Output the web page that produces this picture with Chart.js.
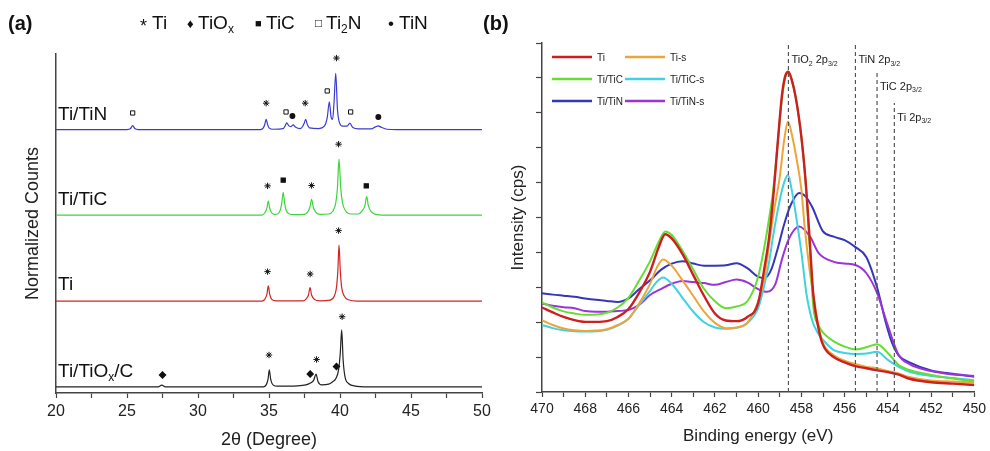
<!DOCTYPE html>
<html>
<head>
<meta charset="utf-8">
<script src="https://cdn.jsdelivr.net/npm/chart.js@4"></script>
<style>
  html, body { margin: 0; padding: 0; background: #fff; }
  #wrap { position: relative; width: 990px; height: 451px; overflow: hidden; }
  #wrap canvas { position: absolute; top: 0; }
  #xrd { left: 0; }
  #xps { left: 470px; }
</style>
</head>
<body>
<div id="wrap">
  <canvas id="xrd" width="500" height="451"></canvas>
  <canvas id="xps" width="520" height="451"></canvas>
</div>
<script>
// ─── (a) XRD patterns ──────────────────────────────────────────────
// intensities above each pattern's own baseline, [2θ, counts]
const xrdTiTiN = [
  [20, 0], [25.0, 0], [25.25, 0.3], [25.4, 1.2], [25.55, 0.3], [25.8, 0],
  [34.4, 0], [34.6, 0.5], [34.7, 1.5], [34.8, 3.0], [34.9, 1.5], [35.0, 0.5], [35.3, 0.1],
  [36.0, 0.3], [36.15, 1.2], [36.25, 2.0], [36.4, 1.1], [36.55, 0.9], [36.7, 1.4], [36.85, 0.8],
  [37.2, 0.3], [37.38, 1.0], [37.48, 1.9], [37.58, 3.0], [37.7, 1.5], [37.85, 0.5],
  [38.5, 0.3], [38.9, 1.0], [39.1, 3.5], [39.25, 8.2], [39.38, 3.5], [39.48, 3.0],
  [39.58, 8.0], [39.7, 16.6], [39.82, 6.0], [39.95, 2.2], [40.2, 1.0], [40.5, 1.0],
  [40.7, 1.9], [40.9, 0.6], [41.3, 0.2], [42.2, 0.2], [42.5, 0.8], [42.7, 1.1],
  [42.9, 0.7], [43.3, 0.1], [44, 0], [50, 0],
];
const xrdTiTiC = [
  [20, 0], [34.5, 0], [34.7, 0.6], [34.85, 2.0], [34.95, 4.1], [35.05, 2.0], [35.2, 0.6],
  [35.4, 0.2], [35.6, 0.3], [35.8, 1.5], [35.9, 3.5], [36.0, 6.7], [36.1, 3.5], [36.2, 1.5],
  [36.4, 0.4], [36.8, 0.1], [37.5, 0.2], [37.7, 0.8], [37.88, 2.3], [38.0, 4.6], [38.12, 2.3],
  [38.3, 0.8], [38.6, 0.2], [39.2, 0.3], [39.5, 1.2], [39.7, 3.5], [39.82, 8.0], [39.93, 16.5],
  [40.05, 8.0], [40.18, 3.5], [40.4, 1.2], [40.8, 0.3], [41.3, 0.3], [41.55, 1.2], [41.75, 2.7],
  [41.88, 5.4], [42.0, 2.7], [42.2, 1.0], [42.5, 0.2], [43, 0], [50, 0],
];
const xrdTi = [
  [20, 0], [34.5, 0], [34.7, 0.5], [34.85, 2.0], [34.95, 4.5], [35.05, 2.0], [35.2, 0.5],
  [35.5, 0.1], [37.4, 0.1], [37.6, 0.6], [37.78, 1.8], [37.89, 4.0], [38.0, 1.8], [38.2, 0.5],
  [38.6, 0.1], [39.3, 0.3], [39.6, 1.5], [39.75, 4.0], [39.85, 9.0], [39.93, 16.6], [40.02, 9.0],
  [40.12, 4.0], [40.3, 1.5], [40.6, 0.4], [41.2, 0], [50, 0],
];
const xrdTiTiOxC = [
  [20, 0], [27.2, 0], [27.45, 0.5], [27.7, 0], [34.6, 0], [34.8, 0.6], [34.93, 2.2],
  [35.02, 5.0], [35.12, 2.2], [35.28, 0.6], [35.6, 0.2], [37.0, 0.3], [37.6, 0.6], [37.95, 1.2],
  [38.15, 2.0], [38.31, 3.8], [38.45, 1.6], [38.7, 0.6], [39.2, 0.8], [39.5, 1.6], [39.7, 2.4],
  [39.9, 5.0], [40.02, 10.0], [40.12, 16.8], [40.22, 8.0], [40.35, 3.0], [40.6, 1.0],
  [41.0, 0.3], [42, 0], [50, 0],
];
const xrdPatterns = [xrdTiTiN, xrdTiTiC, xrdTi, xrdTiTiOxC];
const xrdNames = ['Ti/TiN', 'Ti/TiC', 'Ti', 'Ti/TiO_{x}/C'];
const xrdOffsets = [77.7, 52.5, 27.1, 1.8];
const xrdNameY = [82.0, 56.9, 31.9, 6.2];

// phase markers over the reflections, [2θ, height]
const markTi = [
  [34.8, 85.5], [37.55, 85.5], [39.75, 98.8],
  [34.9, 61.1], [38.0, 61.2], [39.9, 73.4],
  [34.9, 35.8], [37.9, 35.1], [39.9, 47.9],
  [35.0, 11.2], [38.35, 9.9], [40.15, 22.5],
];
const markTiOx = [[27.5, 5.3], [37.9, 5.6], [39.75, 7.8]];
const markTiC = [[36.0, 62.8], [41.85, 61.1]];
const markTi2N = [[25.4, 82.6], [36.2, 82.9], [39.1, 89.1], [40.75, 82.9]];
const markTiN = [[36.65, 81.7], [42.7, 81.4]];

const phaseSymbols = ['*', '\u2666', '\u25A0', '\u25A1', '\u2022'];
const phaseNames = ['Ti', 'TiO_{x}', 'TiC', 'Ti_{2}N', 'TiN'];

// ─── (b) XPS Ti 2p spectra, [binding energy, intensity] ────────────
const xpsTi = [
  [470, 2.42], [469.5, 2.28], [469, 2.15], [468.5, 2.06], [468, 2.01], [467.5, 2.01], [467, 2.03],
  [466.5, 2.15], [466, 2.38], [465.5, 2.85], [465, 3.45], [464.6, 4.15], [464.3, 4.52], [464, 4.40],
  [463.5, 3.95], [463, 3.35], [462.5, 2.75], [462, 2.25], [461.5, 2.05], [461, 2.03], [460.5, 2.15],
  [460, 2.55], [459.7, 3.6], [459.5, 4.4], [459.3, 5.6], [459.1, 7.1], [458.9, 8.5], [458.75, 9.05],
  [458.6, 9.18], [458.45, 8.95], [458.25, 8.4], [458.0, 7.3], [457.8, 6.0], [457.6, 4.2],
  [457.45, 2.8], [457.2, 1.8], [457.0, 1.35], [456.5, 1.0], [456, 0.85], [455.5, 0.74], [455, 0.68],
  [454.5, 0.62], [454, 0.57], [453.5, 0.5], [453, 0.38], [452, 0.28], [451, 0.24], [450, 0.2],
];
const xpsTiS = [
  [470, 2.06], [469.5, 1.92], [469, 1.82], [468.5, 1.77], [468, 1.75], [467.5, 1.76], [467, 1.8],
  [466.5, 1.92], [466, 2.1], [465.5, 2.55], [465, 3.1], [464.7, 3.55], [464.4, 3.8], [464, 3.62],
  [463.5, 3.2], [463, 2.75], [462.5, 2.3], [462, 1.98], [461.5, 1.83], [461, 1.85], [460.5, 1.98],
  [460, 2.6], [459.7, 3.3], [459.5, 4.2], [459.3, 5.07], [459.0, 6.17], [458.8, 7.2], [458.62, 7.75],
  [458.45, 7.4], [458.24, 6.74], [458.0, 5.8], [457.85, 4.74], [457.6, 3.4], [457.4, 2.6],
  [457.2, 1.85], [457, 1.4], [456.5, 1.05], [456, 0.9], [455.5, 0.8], [455, 0.72], [454.5, 0.68],
  [454, 0.6], [453.5, 0.53], [453, 0.43], [452, 0.33], [451, 0.3], [450, 0.27],
];
const xpsTiTiC = [
  [470, 2.57], [469.5, 2.42], [469, 2.31], [468.5, 2.25], [468, 2.21], [467.5, 2.22], [467, 2.27],
  [466.5, 2.42], [466, 2.7], [465.5, 3.2], [465, 3.75], [464.6, 4.3], [464.3, 4.6], [464, 4.5],
  [463.5, 4.05], [463, 3.5], [462.5, 2.95], [462, 2.6], [461.5, 2.4], [461, 2.45], [460.5, 2.6],
  [460, 3.3], [459.7, 4.2], [459.5, 4.95], [459.3, 5.8], [459.1, 7.1], [458.9, 8.4], [458.75, 9.0],
  [458.6, 9.15], [458.45, 8.95], [458.25, 8.4], [458, 7.3], [457.8, 6.0], [457.6, 4.0],
  [457.45, 2.45], [457.2, 1.9], [457, 1.7], [456.5, 1.45], [456, 1.3], [455.5, 1.22], [455, 1.28],
  [454.5, 1.37], [454, 1.12], [453.5, 0.77], [453, 0.63], [452, 0.49], [451, 0.39], [450, 0.3],
];
const xpsTiTiCS = [
  [470, 1.92], [469.5, 1.83], [469, 1.77], [468.5, 1.74], [468, 1.73], [467.5, 1.74], [467, 1.78],
  [466.5, 1.9], [466, 2.1], [465.5, 2.5], [465, 2.9], [464.7, 3.15], [464.4, 3.28], [464, 3.1],
  [463.5, 2.7], [463, 2.3], [462.5, 2.0], [462, 1.85], [461.5, 1.81], [461, 1.84], [460.5, 1.98],
  [460, 2.4], [459.7, 3.1], [459.5, 3.7], [459.3, 4.5], [459.0, 5.5], [458.8, 6.0], [458.62, 6.22],
  [458.45, 5.8], [458.24, 5.02], [458.0, 4.0], [457.77, 2.83], [457.5, 2.05], [457.2, 1.65],
  [457, 1.49], [456.5, 1.2], [456, 1.12], [455.5, 1.09], [455, 1.1], [454.5, 1.15], [454, 0.92],
  [453.5, 0.72], [453, 0.58], [452, 0.46], [451, 0.4], [450, 0.34],
];
const xpsTiTiN = [
  [470, 2.83], [469.5, 2.79], [469, 2.76], [468.5, 2.73], [468, 2.68], [467.5, 2.64], [467, 2.61],
  [466.5, 2.58], [466, 2.68], [465.5, 2.95], [465, 3.2], [464.5, 3.5], [464, 3.68], [463.5, 3.75],
  [463, 3.68], [462.5, 3.62], [462, 3.62], [461.5, 3.63], [461, 3.69], [460.5, 3.55], [460, 3.3],
  [459.7, 3.27], [459.4, 3.5], [459.1, 4.1], [458.8, 4.8], [458.5, 5.35], [458.1, 5.7], [457.8, 5.6],
  [457.5, 5.3], [457, 4.6], [456.5, 4.45], [456, 4.35], [455.5, 4.15], [455, 3.87], [454.5, 3.0],
  [454.1, 2.0], [453.8, 1.4], [453.5, 1.05], [453, 0.85], [452, 0.62], [451, 0.52], [450, 0.44],
];
const xpsTiTiNS = [
  [470, 2.54], [469.5, 2.47], [469, 2.43], [468.5, 2.4], [468, 2.32], [467.5, 2.3], [467, 2.3],
  [466.5, 2.32], [466, 2.35], [465.5, 2.5], [465, 2.78], [464.5, 2.95], [464, 3.1], [463.5, 3.18],
  [463, 3.15], [462.5, 3.12], [462, 3.07], [461.5, 3.15], [461, 3.22], [460.5, 3.14], [460, 2.95],
  [459.6, 2.87], [459.2, 3.1], [458.9, 3.8], [458.6, 4.36], [458.1, 4.74], [457.6, 4.45],
  [457.2, 3.98], [456.5, 3.73], [456, 3.68], [455.5, 3.64], [455, 3.41], [454.5, 2.84], [454, 1.9],
  [453.5, 1.06], [453, 0.8], [452, 0.6], [451, 0.5], [450, 0.46],
];
const xpsSpectra = [xpsTi, xpsTiS, xpsTiTiC, xpsTiTiCS, xpsTiTiN, xpsTiTiNS];
const xpsNames = ['Ti', 'Ti-s', 'Ti/TiC', 'Ti/TiC-s', 'Ti/TiN', 'Ti/TiN-s'];

// reference binding energies and the height each dashed marker reaches
const refEnergies = [458.6, 455.5, 454.5, 453.7];
const refTops = [9.94, 9.94, 9.17, 8.28];
const refLabels = ['TiO_{2} 2p_{3/2}', 'TiN 2p_{3/2}', 'TiC 2p_{3/2}', 'Ti 2p_{3/2}'];

// ─── styling ───────────────────────────────────────────────────────
const FAMILY = '"Liberation Sans", Arial, "DejaVu Sans", sans-serif';
const INK = '#222';
const AXIS = '#444';
const xrdColors = ['#3b3bd0', '#3fd43f', '#d42424', '#222222'];
const xpsColors = ['#cc1f1f', '#eda53a', '#66dd33', '#40d2e0', '#3636b8', '#9b34d8'];
const xpsOrder = [0, 2, 1, 3, 5, 4];

Chart.defaults.font.family = FAMILY;
Chart.defaults.color = INK;

// text with _{...} subscripts, drawn left to right from x
function richParts(str) {
  const parts = [];
  const re = /_\{([^}]*)\}/g;
  let last = 0, m;
  while ((m = re.exec(str))) {
    if (m.index > last) parts.push([str.slice(last, m.index), false]);
    parts.push([m[1], true]);
    last = re.lastIndex;
  }
  if (last < str.length) parts.push([str.slice(last), false]);
  return parts;
}

function drawRich(ctx, str, x, y, size) {
  for (const [t, sub] of richParts(str)) {
    ctx.font = (sub ? Math.round(size * 0.62) : size) + 'px ' + FAMILY;
    ctx.fillText(t, x, sub ? y + size * 0.32 : y);
    x += ctx.measureText(t).width;
  }
  return x;
}

const toXY = (pts, dy = 0) => pts.map(([x, y]) => ({ x, y: y + dy }));

// sample names, phase key and panel letter for (a)
const xrdText = {
  id: 'xrdText',
  afterDraw(chart) {
    const { ctx, scales: { x, y } } = chart;
    ctx.save();
    ctx.fillStyle = '#111';
    ctx.textBaseline = 'middle';
    xrdNames.forEach((name, i) => {
      drawRich(ctx, name, x.getPixelForValue(20) + 2, y.getPixelForValue(xrdNameY[i]), 19);
    });

    ctx.font = 'bold 20px ' + FAMILY;
    ctx.fillText('(a)', 8, 24);

    const symX = [140, 187, 255, 315, 388];
    const symSize = [18, 13, 11, 12, 17];
    phaseNames.forEach((name, i) => {
      ctx.font = symSize[i] + 'px ' + FAMILY;
      ctx.fillText(phaseSymbols[i], symX[i], i === 0 ? 27 : 24);
      drawRich(ctx, name, symX[i] + (i === 0 ? 12 : 11), 24, 19);
    });
    ctx.restore();
  },
};

// reference-line captions, key and panel letter for (b)
const xpsText = {
  id: 'xpsText',
  afterDraw(chart) {
    const { ctx, scales: { x, y } } = chart;
    ctx.save();
    ctx.fillStyle = INK;
    ctx.textBaseline = 'middle';
    refEnergies.forEach((e, i) => {
      drawRich(ctx, refLabels[i], x.getPixelForValue(e) + 3, y.getPixelForValue(refTops[i]) + 15, 11);
    });

    xpsNames.forEach((name, i) => {
      const lx = i % 2 ? 155 : 82;
      const ly = 57 + Math.floor(i / 2) * 22;
      ctx.strokeStyle = xpsColors[i];
      ctx.lineWidth = 2.5;
      ctx.beginPath();
      ctx.moveTo(lx, ly);
      ctx.lineTo(lx + 40, ly);
      ctx.stroke();
      ctx.font = '10px ' + FAMILY;
      ctx.fillText(name, lx + 45, ly + 1);
    });

    ctx.fillStyle = '#111';
    ctx.font = 'bold 20px ' + FAMILY;
    ctx.fillText('(b)', 13, 24);
    ctx.restore();
  },
};

// ─── (a) chart ─────────────────────────────────────────────────────
const xrdTraces = xrdPatterns.map((pts, i) => ({
  data: toXY(pts, xrdOffsets[i]),
  borderColor: xrdColors[i],
  borderWidth: 1.2,
  pointRadius: 0,
  cubicInterpolationMode: 'monotone',
  fill: false,
}));

const marker = (pts, style, radius, fillColor, width = 1.1) => ({
  type: 'scatter',
  data: toXY(pts),
  pointStyle: style,
  pointRadius: radius,
  pointBorderWidth: width,
  pointBorderColor: '#111',
  pointBackgroundColor: fillColor,
  showLine: false,
  clip: false,
});

new Chart(document.getElementById('xrd'), {
  type: 'line',
  data: {
    datasets: [
      ...xrdTraces,
      marker(markTi, 'star', 3.2, '#111', 1),
      marker(markTiOx, 'rectRot', 3.2, '#111'),
      marker(markTiC, 'rect', 3, '#111'),
      marker(markTi2N, 'rect', 3, '#fff', 1),
      marker(markTiN, 'circle', 2.4, '#111'),
    ],
  },
  options: {
    responsive: false,
    animation: false,
    layout: { padding: { top: 54, right: 18, left: 0, bottom: 0 } },
    plugins: { legend: { display: false }, tooltip: { enabled: false } },
    scales: {
      x: {
        type: 'linear',
        min: 20,
        max: 50,
        afterFit: (s) => { s.height = 58; },
        grid: { drawOnChartArea: false, tickLength: 5, color: AXIS, tickWidth: 1.2 },
        border: { color: AXIS, width: 1.5 },
        ticks: {
          stepSize: 2.5,
          autoSkip: false,
          maxRotation: 0,
          padding: 4,
          color: INK,
          font: { size: 16 },
          callback: (v) => (v % 5 === 0 ? v : ''),
        },
        title: {
          display: true,
          text: '2\u03B8 (Degree)',
          color: INK,
          font: { size: 18 },
          padding: { top: 0, bottom: 0 },
        },
      },
      y: {
        min: 0,
        max: 100,
        afterFit: (s) => { s.width = 56; },
        grid: { display: false },
        border: { color: AXIS, width: 1.5 },
        ticks: { display: false },
        title: {
          display: true,
          text: 'Normalized Counts',
          color: INK,
          font: { size: 18 },
          padding: { top: 22, bottom: 0 },
        },
      },
    },
  },
  plugins: [xrdText],
});

// ─── (b) chart ─────────────────────────────────────────────────────
const xpsTraces = xpsSpectra.map((pts, i) => ({
  data: toXY(pts),
  borderColor: xpsColors[i],
  borderWidth: i === 0 ? 2.4 : 2,
  pointRadius: 0,
  cubicInterpolationMode: 'monotone',
  fill: false,
  order: xpsOrder[i],
}));

const refTraces = refEnergies.map((e, i) => ({
  data: [{ x: e, y: 0 }, { x: e, y: refTops[i] }],
  borderColor: '#555',
  borderWidth: 1.2,
  borderDash: [4, 3],
  pointRadius: 0,
  order: -1,
}));

new Chart(document.getElementById('xps'), {
  type: 'line',
  data: { datasets: [...xpsTraces, ...refTraces] },
  options: {
    responsive: false,
    animation: false,
    layout: { padding: { top: 43, right: 15, left: 0, bottom: 0 } },
    plugins: { legend: { display: false }, tooltip: { enabled: false } },
    scales: {
      x: {
        type: 'linear',
        min: 450,
        max: 470,
        reverse: true,
        afterFit: (s) => { s.height = 59; },
        grid: { drawOnChartArea: false, tickLength: 5, color: AXIS, tickWidth: 1.2 },
        border: { color: AXIS, width: 1.5 },
        ticks: {
          stepSize: 1,
          autoSkip: false,
          maxRotation: 0,
          padding: 4,
          color: INK,
          font: { size: 14 },
          callback: (v) => (v % 2 === 0 ? v : ''),
        },
        title: {
          display: true,
          text: 'Binding energy (eV)',
          color: INK,
          font: { size: 17 },
          padding: { top: 0, bottom: 4 },
        },
      },
      y: {
        min: 0,
        max: 10,
        afterFit: (s) => { s.width = 72; },
        grid: { drawOnChartArea: false, tickLength: 6, color: AXIS, tickWidth: 1.2 },
        border: { color: AXIS, width: 1.5 },
        ticks: { stepSize: 1, callback: () => '' },
        title: {
          display: true,
          text: 'Intensity (cps)',
          color: INK,
          font: { size: 17 },
          padding: { top: 38, bottom: 0 },
        },
      },
    },
  },
  plugins: [xpsText],
});
</script>
</body>
</html>
